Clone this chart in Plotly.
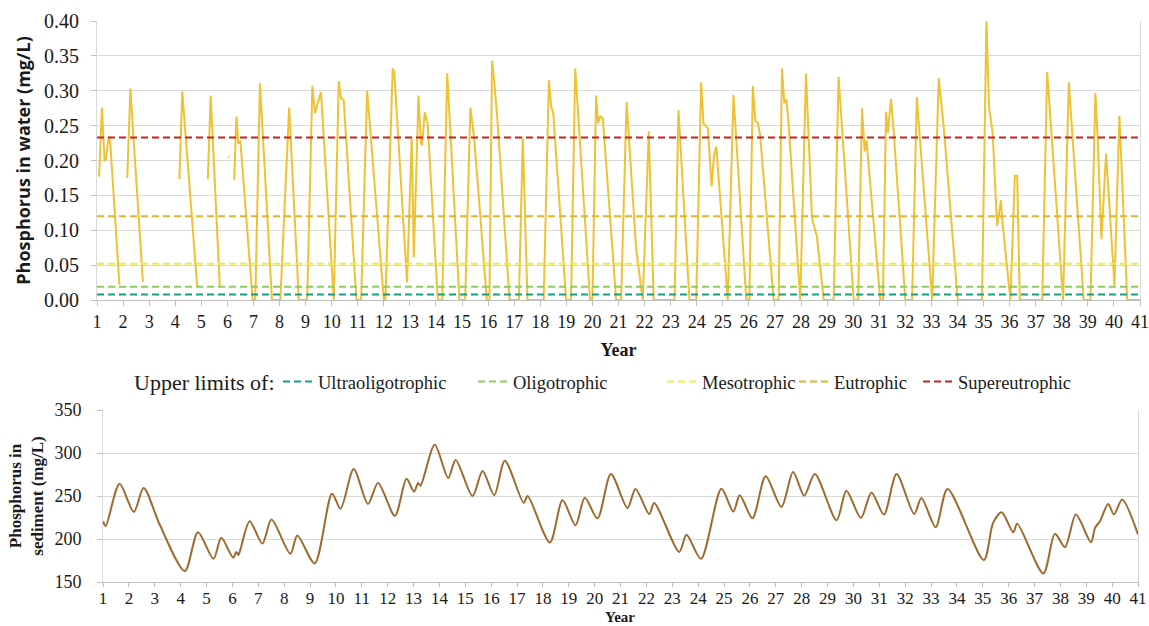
import plotly.graph_objects as go

W, H = 1149, 626

# ---------------- data ----------------
years = list(range(1, 42))

# Phosphorus in water (mg/L); None = gap in the record
water_year = [
    1.08, 1.19, 1.29, 1.34, 1.45, 1.51, 1.86, None,
    2.16, 2.28, 2.76, None,
    4.16, 4.27, 4.84, None,
    5.25, 5.36, 5.71, None,
    6.03, 6.06, None,
    6.26, 6.35, 6.42, 6.50, 6.97, 7.07, 7.25, 7.71, 8.03, 8.37, 8.74, 9.06, 9.26, 9.36, 9.59,
    10.08, 10.27, 10.36, 10.46, 10.95, 11.13, 11.36, 12.00, 12.06, 12.34, 12.40, 12.89,
    13.07, 13.15, 13.33, 13.42, 13.47, 13.57, 13.68, 14.07, 14.24, 14.43, 14.90, 15.12,
    15.32, 15.47, 15.95, 16.05, 16.15, 16.24, 16.37, 16.82, 17.18, 17.33, 17.51, 18.13,
    18.33, 18.42, 18.50, 18.99, 19.18, 19.34, 19.91, 20.00, 20.14, 20.22, 20.30, 20.40,
    20.91, 21.10, 21.31, 21.68, 21.93, 22.16, 22.35, 23.15, 23.30, 23.72, 23.98, 24.17,
    24.26, 24.43, 24.57, 24.66, 24.75, 25.19, 25.41, 25.90, 26.02, 26.15, 26.25, 26.34,
    26.43, 26.95, 27.14, 27.27, 27.36, 27.44, 27.53, 27.97, 28.19, 28.42, 28.61, 28.87,
    29.25, 29.44, 30.02, 30.19, 30.34, 30.44, 30.51, 31.04, 31.14, 31.26, 31.33, 31.45,
    31.55, 32.00, 32.26, 32.44, 33.03, 33.28, 33.47, 34.01, 34.94, 35.11, 35.21, 35.35,
    35.52, 35.67, 35.71, 36.03, 36.20, 36.29, 36.39, 37.25, 37.44, 38.05, 38.27, 38.84,
    39.10, 39.29, 39.38, 39.52, 39.70, 40.02, 40.21, 40.51, 41.00,
]
water_p = [
    0.177, 0.276, 0.199, 0.202, 0.234, 0.225, 0.022, None,
    0.175, 0.303, 0.026, None,
    0.173, 0.299, 0.020, None,
    0.173, 0.293, 0.019, None,
    0.206, 0.205, None,
    0.172, 0.263, 0.225, 0.227, 0.000, 0.000, 0.311, 0.000, 0.000, 0.276, 0.000, 0.000, 0.307, 0.268, 0.298,
    0.000, 0.314, 0.289, 0.287, 0.000, 0.000, 0.300, 0.000, 0.000, 0.332, 0.327, 0.025,
    0.232, 0.061, 0.293, 0.225, 0.222, 0.269, 0.253, 0.000, 0.000, 0.325, 0.000, 0.000,
    0.276, 0.230, 0.000, 0.000, 0.343, 0.311, 0.251, 0.000, 0.000, 0.233, 0.000, 0.000,
    0.315, 0.277, 0.268, 0.000, 0.000, 0.332, 0.000, 0.000, 0.293, 0.253, 0.264, 0.260,
    0.000, 0.000, 0.284, 0.072, 0.000, 0.242, 0.000, 0.000, 0.272, 0.000, 0.000, 0.312,
    0.253, 0.246, 0.163, 0.206, 0.220, 0.000, 0.294, 0.000, 0.000, 0.307, 0.257, 0.254,
    0.237, 0.000, 0.000, 0.332, 0.282, 0.288, 0.249, 0.000, 0.325, 0.117, 0.091, 0.000,
    0.000, 0.320, 0.000, 0.000, 0.275, 0.213, 0.229, 0.000, 0.000, 0.270, 0.240, 0.288,
    0.244, 0.000, 0.000, 0.291, 0.000, 0.318, 0.249, 0.000, 0.000, 0.400, 0.277, 0.239,
    0.106, 0.143, 0.117, 0.000, 0.178, 0.178, 0.000, 0.000, 0.327, 0.000, 0.312, 0.000,
    0.000, 0.297, 0.229, 0.087, 0.210, 0.021, 0.264, 0.000, 0.000,
]

# Trophic state upper limits (mg/L)
trophic_names = ["Ultraoligotrophic", "Oligotrophic", "Mesotrophic", "Eutrophic", "Supereutrophic"]
trophic_limits = [0.008, 0.019, 0.052, 0.120, 0.233]

# Phosphorus in sediment (mg/L)
sed_year = [
    1.00, 1.10, 1.64, 2.19, 2.57, 3.19, 4.16, 4.67, 5.27, 5.57, 6.03, 6.15, 6.23, 6.31,
    6.67, 7.16, 7.51, 8.24, 8.51, 9.18, 9.85, 10.18, 10.69, 11.24, 11.63, 12.28, 12.73,
    13.02, 13.18, 13.27, 13.82, 14.34, 14.63, 15.28, 15.67, 16.12, 16.53, 17.26, 17.41,
    18.27, 18.76, 19.26, 19.62, 20.11, 20.63, 21.27, 21.58, 22.11, 22.30, 23.27, 23.55,
    24.11, 24.90, 25.36, 25.61, 26.10, 26.61, 27.22, 27.67, 28.10, 28.51, 29.35, 29.73,
    30.29, 30.70, 31.18, 31.67, 32.35, 32.63, 33.18, 33.64, 35.04, 35.40, 35.73, 36.18,
    36.33, 37.34, 37.79, 38.18, 38.60, 39.18, 39.34, 39.53, 39.85, 40.07, 40.39, 41.00,
]
sed_p = [
    220.7, 215.0, 264.3, 231.5, 259.3, 216.8, 162.7, 207.9, 177.0, 201.4, 178.2, 185.0, 181.3, 187.8,
    220.7, 194.8, 222.6, 182.8, 204.1, 171.6, 252.7, 235.3, 281.3, 240.7, 265.1, 227.0, 270.0,
    255.0, 265.0, 262.0, 309.5, 271.0, 292.0, 250.0, 279.0, 251.0, 291.0, 242.0, 250.0,
    196.0, 245.0, 216.0, 248.0, 224.0, 275.5, 236.0, 258.0, 229.0, 242.0, 185.0, 205.0,
    177.0, 258.5, 232.0, 251.0, 224.0, 273.0, 237.3, 277.8, 250.4, 275.5, 221.8, 256.2,
    224.5, 254.2, 228.4, 275.5, 229.2, 247.7, 213.7, 258.1, 175.5, 218.7, 231.1, 207.9,
    217.6, 160.0, 206.0, 190.5, 228.4, 196.3, 212.9, 220.7, 240.7, 228.4, 245.8, 205.2,
]

# ---------------- styling ----------------
WATER_COLOR = "#EEC236"
SED_COLOR = "#9C6B30"
TROPHIC_COLORS = ["#159E80", "#8FCB5C", "#F0EC3C", "#E2B32C", "#CC1F1F"]
GRID = "#D9D9D9"
AXLINE = "#BFBFBF"
SERIF = "Liberation Serif, Times New Roman, serif"
TXT = "#1a1a1a"

def px_x(p):
    return p / W

def px_y(p):
    return 1 - p / H

fig = go.Figure()

fig.add_trace(go.Scatter(
    x=water_year, y=water_p, mode="lines", connectgaps=False,
    line=dict(color=WATER_COLOR, width=2), showlegend=False,
    xaxis="x", yaxis="y",
))

legend_text_x = [318, 513, 702, 834, 958]
for i, (name, lim) in enumerate(zip(trophic_names, trophic_limits)):
    lid = "legend" if i == 0 else f"legend{i+1}"
    fig.add_trace(go.Scatter(
        x=[years[0], years[-1]], y=[lim, lim], mode="lines", name=name,
        line=dict(color=TROPHIC_COLORS[i], width=2, dash="7px,4px"),
        xaxis="x", yaxis="y", legend=lid, showlegend=True,
    ))

fig.add_trace(go.Scatter(
    x=sed_year, y=sed_p, mode="lines",
    line=dict(color=SED_COLOR, width=2, shape="spline", smoothing=0.8),
    showlegend=False, xaxis="x2", yaxis="y2",
))

xtick_font = dict(family=SERIF, size=18, color=TXT)
xtick_font_bot = dict(family=SERIF, size=17, color=TXT)
ytick_font_top = dict(family=SERIF, size=20, color=TXT)
ytick_font_bot = dict(family=SERIF, size=18, color=TXT)

legend_common = dict(
    orientation="h", xanchor="left", yanchor="middle",
    font=dict(family=SERIF, size=18.5, color=TXT),
    bgcolor="rgba(0,0,0,0)", borderwidth=0, itemwidth=30,
)
layout_legends = {}
for i, tx in enumerate(legend_text_x):
    key = "legend" if i == 0 else f"legend{i+1}"
    layout_legends[key] = dict(legend_common, x=px_x(tx - 40), y=px_y(382))

fig.update_layout(
    width=W, height=H,
    margin=dict(l=0, r=0, t=0, b=0),
    paper_bgcolor="white", plot_bgcolor="white",
    xaxis=dict(
        domain=[px_x(97), px_x(1140)], range=[1, 41],
        tickmode="array", tickvals=years, ticktext=[str(y) for y in years],
        ticks="outside", ticklen=5, tickcolor=AXLINE,
        showline=True, linecolor=AXLINE, linewidth=1, mirror=False,
        showgrid=False, zeroline=False, tickfont=xtick_font,
        title=dict(text="<b>Year</b>", font=dict(family=SERIF, size=18, color=TXT), standoff=12),
        anchor="y", automargin=False,
    ),
    yaxis=dict(
        domain=[px_y(300), px_y(21)], range=[0, 0.40],
        tickmode="array", tickvals=[0, 0.05, 0.10, 0.15, 0.20, 0.25, 0.30, 0.35, 0.40],
        tickformat=".2f",
        ticks="outside", ticklen=5, tickcolor=AXLINE,
        showline=True, linecolor=GRID, mirror=True,
        showgrid=True, gridcolor=GRID, zeroline=False, tickfont=ytick_font_top,
        ticklabelstandoff=8,
        title=dict(text="<b>Phosphorus in water (mg/L)</b>",
                   font=dict(family="Open Sans", size=18, color=TXT), standoff=8),
        anchor="x", automargin=False,
    ),
    xaxis2=dict(
        domain=[px_x(103), px_x(1138)], range=[1, 41],
        tickmode="array", tickvals=years, ticktext=[str(y) for y in years],
        ticks="outside", ticklen=4, tickcolor=AXLINE,
        showline=True, linecolor=AXLINE, linewidth=1,
        showgrid=False, zeroline=False, tickfont=xtick_font_bot,
        ticklabelstandoff=-3,
        anchor="y2", automargin=False,
    ),
    yaxis2=dict(
        domain=[px_y(582), px_y(410)], range=[150, 350],
        tickmode="array", tickvals=[150, 200, 250, 300, 350],
        ticks="outside", ticklen=5, tickcolor=AXLINE,
        showline=True, linecolor=GRID, mirror=True,
        showgrid=True, gridcolor=GRID, zeroline=False, tickfont=ytick_font_bot,
        ticklabelstandoff=12,
        title=dict(text="<b>Phosphorus in<br>sediment (mg/L)</b>",
                   font=dict(family=SERIF, size=17, color=TXT), standoff=6),
        anchor="x2", automargin=False,
    ),
    annotations=[
        dict(
            text="Upper limits of:", xref="paper", yref="paper",
            x=px_x(132), y=px_y(382), xanchor="left", yanchor="middle",
            showarrow=False, font=dict(family=SERIF, size=22, color=TXT),
        ),
        dict(
            text="<b>Year</b>", xref="paper", yref="paper",
            x=px_x(620), y=0, xanchor="center", yanchor="bottom",
            showarrow=False, font=dict(family=SERIF, size=15, color=TXT),
            borderpad=0,
        ),
    ],
    **layout_legends,
)

fig.write_html("out.html")
